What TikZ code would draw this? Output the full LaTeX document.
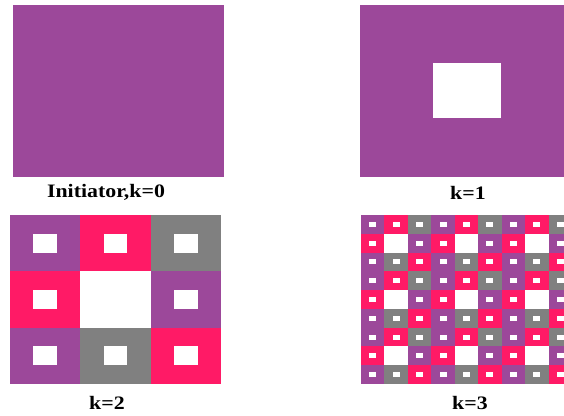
\documentclass[tikz,border=0pt]{standalone}
\usepackage{fontspec}
\setmainfont{Liberation Serif}
\usepackage{graphicx}
\definecolor{fpur}{RGB}{156,72,154}
\definecolor{fpink}{RGB}{255,26,102}
\definecolor{fgray}{RGB}{128,128,128}
\tikzset{
  lbl/.style={font=\fontsize{19}{19}\selectfont\bfseries, inner sep=0pt, text=black},
}
\newcommand{\cellcol}[1]{\ifcase#1 fpur\or fpink\or fgray\or fpink\or white\or fpur\or fpur\or fgray\or fpink\fi}
\begin{document}
\begin{tikzpicture}[x=1pt,y=-1pt]
\useasboundingbox[fill=white] (0,0) rectangle (564,415);
% k=0
\fill[fpur] (13,5) rectangle (224,177);
\node[lbl] (l0) at (106,192) {\scalebox{1.15}[1]{Initiator,k=0}};
% k=1
\fill[fpur] (360,5) rectangle (564,177);
\fill[white] (433,63) rectangle (501,118);
\node[lbl] (l1) at (468,193) {\scalebox{1.15}[1]{k=1}};
% k=2
\foreach \r in {0,1,2}{
  \foreach \c in {0,1,2}{
    \pgfmathtruncatemacro\idx{\r*3+\c}
    \edef\cc{\cellcol{\idx}}
    \pgfmathsetmacro\xa{10+\c*70.33}
    \pgfmathsetmacro\ya{215+\r*56.33}
    \fill[\cc] (\xa,\ya) rectangle ++(70.33,56.33);
    \fill[white] (\xa+23.44,\ya+18.78) rectangle ++(23.44,18.78);
  }
}
\node[lbl] (l2) at (107,403) {\scalebox{1.15}[1]{k=2}};
% k=3
\begin{scope}
\clip (361,215) rectangle (564,384);
\foreach \r in {0,...,8}{
  \foreach \c in {0,...,8}{
    \pgfmathtruncatemacro\idx{mod(\r,3)*3+mod(\c,3)}
    \edef\cc{\cellcol{\idx}}
    \pgfmathsetmacro\xa{361+\c*23.44}
    \pgfmathsetmacro\ya{215+\r*18.78}
    \fill[\cc] (\xa,\ya) rectangle ++(23.44,18.78);
    \fill[white] (\xa+8.2,\ya+6.9) rectangle ++(7,5);
  }
}
\end{scope}
\node[lbl] (l3) at (470,403) {\scalebox{1.15}[1]{k=3}};
\end{tikzpicture}
\end{document}
